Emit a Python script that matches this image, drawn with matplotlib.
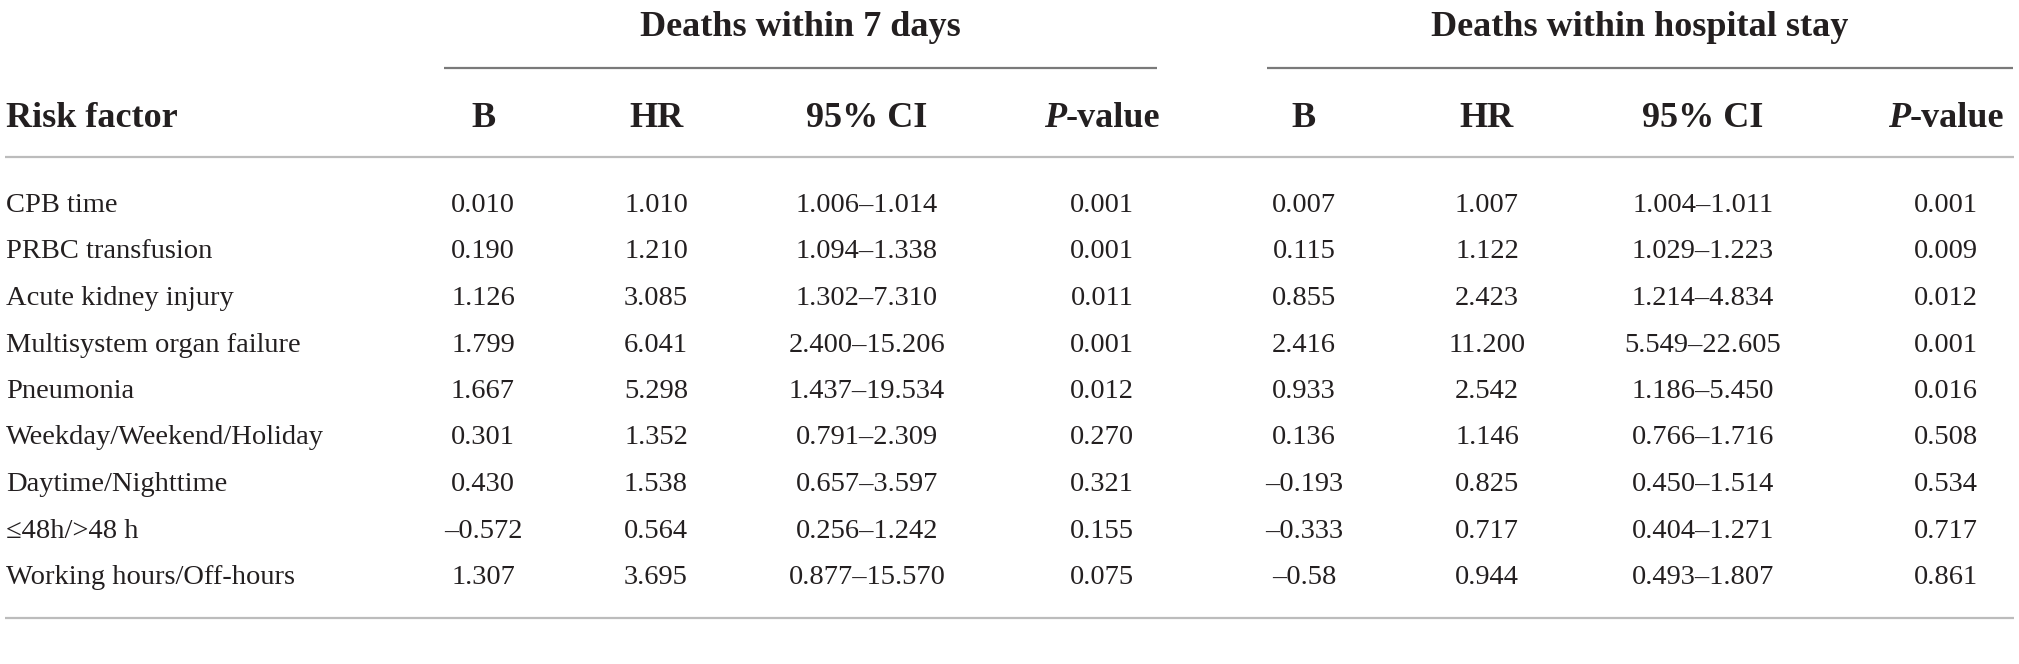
import matplotlib
matplotlib.use('Agg')
import matplotlib.pyplot as plt

# table contents
factors = ['CPB time', 'PRBC transfusion', 'Acute kidney injury',
           'Multisystem organ failure', 'Pneumonia', 'Weekday/Weekend/Holiday',
           'Daytime/Nighttime', '\u226448h/>48 h', 'Working hours/Off-hours']
groups = ['Deaths within 7 days', 'Deaths within hospital stay']
col_heads = ['B', 'HR', '95% CI', 'P-value']

b_7d = ['0.010', '0.190', '1.126', '1.799', '1.667', '0.301', '0.430', '\u20130.572', '1.307']
hr_7d = ['1.010', '1.210', '3.085', '6.041', '5.298', '1.352', '1.538', '0.564', '3.695']
ci_7d = ['1.006\u20131.014', '1.094\u20131.338', '1.302\u20137.310', '2.400\u201315.206',
         '1.437\u201319.534', '0.791\u20132.309', '0.657\u20133.597', '0.256\u20131.242',
         '0.877\u201315.570']
p_7d = ['0.001', '0.001', '0.011', '0.001', '0.012', '0.270', '0.321', '0.155', '0.075']

b_hosp = ['0.007', '0.115', '0.855', '2.416', '0.933', '0.136', '\u20130.193', '\u20130.333', '\u20130.58']
hr_hosp = ['1.007', '1.122', '2.423', '11.200', '2.542', '1.146', '0.825', '0.717', '0.944']
ci_hosp = ['1.004\u20131.011', '1.029\u20131.223', '1.214\u20134.834', '5.549\u201322.605',
           '1.186\u20135.450', '0.766\u20131.716', '0.450\u20131.514', '0.404\u20131.271',
           '0.493\u20131.807']
p_hosp = ['0.001', '0.009', '0.012', '0.001', '0.016', '0.508', '0.534', '0.717', '0.861']

# layout (pixels from top-left)
W, H = 2019, 664
col_x = [483, 656, 867, 1102, 1304, 1487, 1703, 1946]
group_x = [800, 1640]
group_lines = [(444, 1157), (1267, 2013)]
left = 6
row0, row_step = 212, 46.5
txt = '#231f20'
serif = ['Liberation Serif', 'DejaVu Serif']
fs_body = 20.5
fs_head = 26

fig = plt.figure(figsize=(W / 100, H / 100), dpi=100)
ax = fig.add_axes([0, 0, 1, 1])
ax.set_xlim(0, W)
ax.set_ylim(H, 0)
ax.axis('off')

# group headers and their underlines
for gx, g in zip(group_x, groups):
    ax.text(gx, 36, g, ha='center', va='baseline', fontsize=fs_head,
            fontweight='bold', family=serif, color=txt)
for x0, x1 in group_lines:
    ax.plot([x0, x1], [68, 68], color='#7a7a7a', lw=1.6, solid_capstyle='butt')

# column headers
ax.text(left, 127, 'Risk factor', ha='left', va='baseline', fontsize=fs_head,
        fontweight='bold', family=serif, color=txt)

fig.canvas.draw()
renderer = fig.canvas.get_renderer()
for i, cx in enumerate(col_x):
    head = col_heads[i % 4]
    if head == 'P-value':
        t1 = ax.text(0, 127, 'P', ha='left', va='baseline', fontsize=fs_head,
                     fontweight='bold', fontstyle='italic', family=serif, color=txt)
        t2 = ax.text(0, 127, '-value', ha='left', va='baseline', fontsize=fs_head,
                     fontweight='bold', family=serif, color=txt)
        w1 = t1.get_window_extent(renderer).width
        w2 = t2.get_window_extent(renderer).width
        start = cx - (w1 + w2) / 2
        t1.set_x(start)
        t2.set_x(start + w1)
    else:
        ax.text(cx, 127, head, ha='center', va='baseline', fontsize=fs_head,
                fontweight='bold', family=serif, color=txt)

ax.plot([5, 2014], [157, 157], color='#bcbcbc', lw=1.6, solid_capstyle='butt')

# body rows
columns = [b_7d, hr_7d, ci_7d, p_7d, b_hosp, hr_hosp, ci_hosp, p_hosp]
for r, name in enumerate(factors):
    y = row0 + r * row_step
    ax.text(left, y, name, ha='left', va='baseline', fontsize=fs_body,
            family=serif, color=txt)
    for cx, col in zip(col_x, columns):
        ax.text(cx, y, col[r], ha='center', va='baseline', fontsize=fs_body,
                family=serif, color=txt)

ax.plot([5, 2014], [618, 618], color='#bcbcbc', lw=1.6, solid_capstyle='butt')

fig.savefig('out.png', dpi=100, facecolor='white')
